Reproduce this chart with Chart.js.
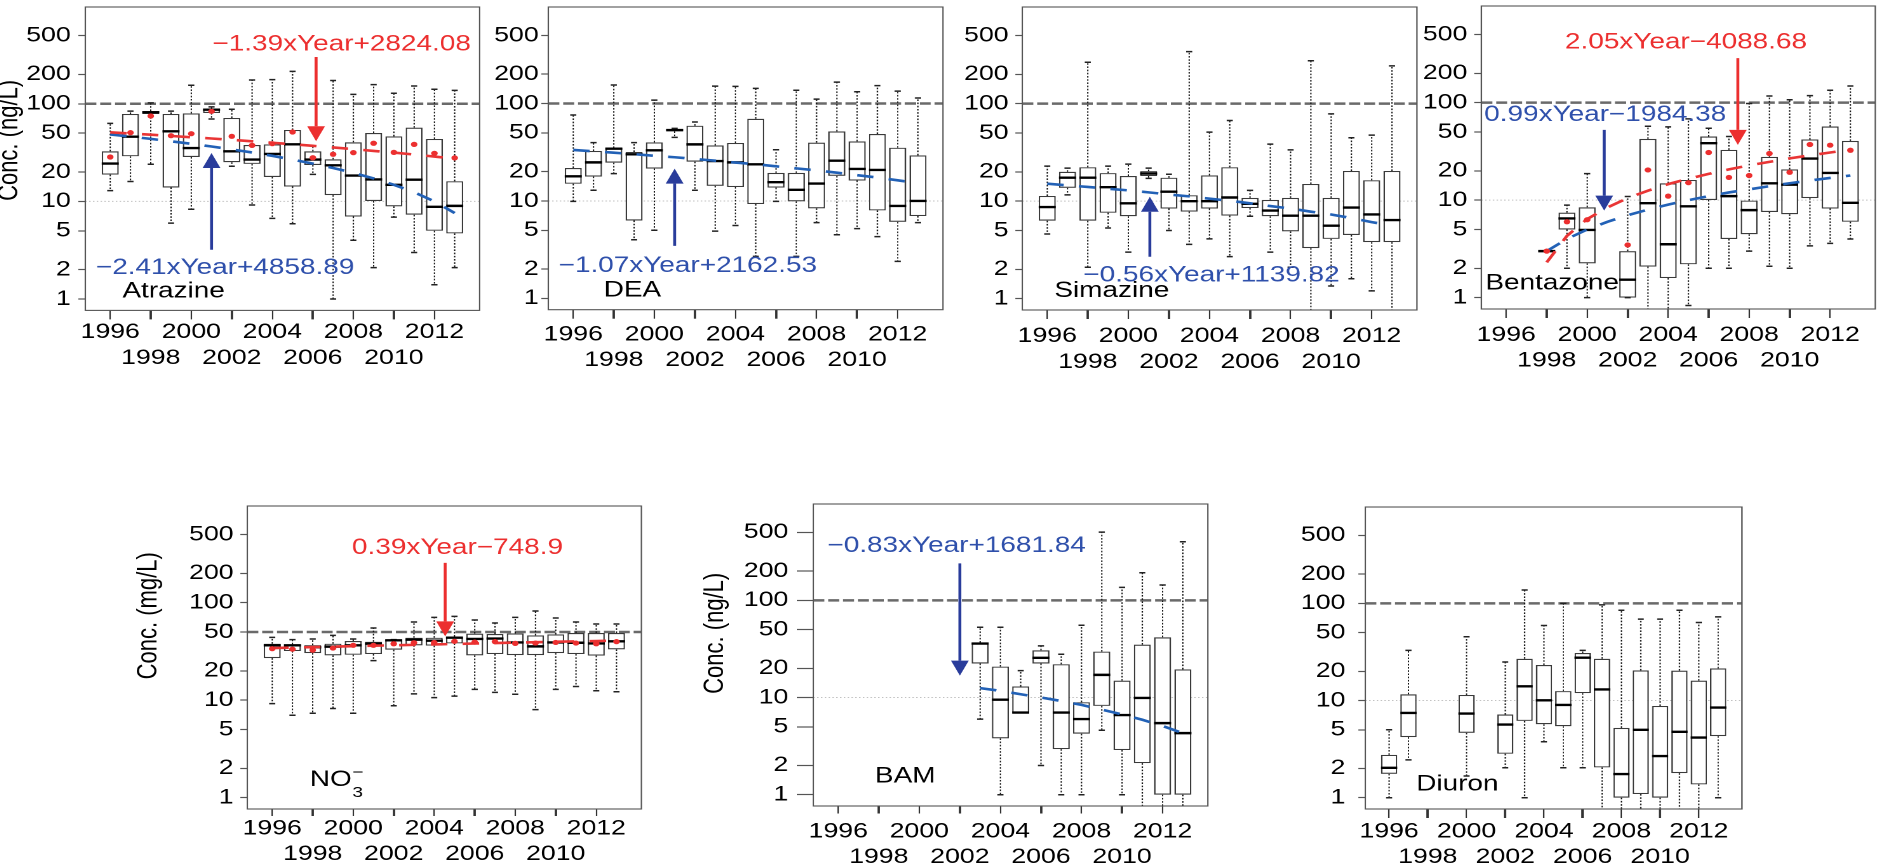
<!DOCTYPE html>
<html><head><meta charset="utf-8">
<script src="https://cdn.jsdelivr.net/npm/chart.js@4.4.1/dist/chart.umd.min.js"></script>
<style>
html,body{margin:0;padding:0;background:#fff;width:1878px;height:868px;overflow:hidden;position:relative;}
.panel{position:absolute;transform-origin:0 0;}
canvas{display:block;}
</style></head><body>
<script>
// ---------------- data ----------------
const years = [1996,1997,1998,1999,2000,2001,2002,2003,2004,2005,2006,2007,2008,2009,2010,2011,2012,2013];
const xTickValues = [1996,1998,2000,2002,2004,2006,2008,2010,2012];
const yTickValues = [1,2,5,10,20,50,100,200,500];

const atrazineHi  = [63, 84, 102, 84, 155, 93, 88, 175, 177, 215, 37, 173, 125, 157, 128, 152, 141, 137];
const atrazineQ3  = [32.6, 78.6, 84.4, 78.6, 79.8, 89.1, 71.6, 37.8, 38.4, 53.9, 32.6, 27.0, 40.3, 50.2, 46.4, 56.9, 43.6, 16.1];
const atrazineMed = [24.4, 46.0, 81.8, 52.2, 35.2, 87.0, 32.6, 26.8, 30.6, 38.4, 26.8, 23.4, 18.4, 16.8, 14.8, 16.7, 8.8, 9.0];
const atrazineQ1  = [18.8, 29.0, 78.6, 13.9, 28.5, 80.5, 25.2, 24.2, 17.8, 14.2, 23.6, 11.6, 7.0, 10.1, 8.9, 7.3, 5.0, 4.7];
const atrazineLo  = [12.9, 16.0, 24.0, 6.0, 8.3, 69.8, 22.9, 9.2, 6.7, 5.9, 18.9, 1.0, 4.0, 2.1, 6.9, 3.0, 1.4, 2.1];
const atrazineMean = [28.5, 50.6, 75.0, 47.1, 49.4, 83.7, 46.4, 37.5, 39.0, 51.4, 28.0, 30.4, 31.6, 39.4, 31.8, 38.4, 31.1, 27.9];
const atrazineMedianTrend = [48.5, 46.1, 43.7, 41.3, 38.9, 36.5, 34.1, 31.7, 29.3, 26.8, 24.4, 22.0, 19.6, 17.2, 14.8, 12.4, 10.0, 7.6];
const atrazineMeanTrend = [51.0, 49.6, 48.2, 46.8, 45.4, 44.1, 42.7, 41.3, 39.9, 38.5, 37.1, 35.7, 34.3, 32.9, 31.6, 30.2, 28.8, 27.4];

const deaHi  = [76.2, 39.7, 155, 39.7, 108.6, 55.6, 64.6, 151, 150, 143, 33.6, 137, 111, 166, 132, 153, 134, 114];
const deaQ3  = [21.8, 32.6, 35.0, 31.8, 40.0, 54.8, 59.2, 37.2, 39.4, 69.8, 19.4, 19.4, 39.7, 51.8, 40.9, 48.7, 35.2, 29.4];
const deaMed = [17.9, 24.9, 34.4, 30.1, 33.1, 53.5, 38.1, 25.7, 24.9, 23.8, 15.6, 13.0, 15.1, 25.9, 21.3, 20.8, 8.9, 10.0];
const deaQ1  = [15.0, 17.8, 24.7, 6.3, 21.5, 51.8, 25.3, 14.3, 13.9, 9.3, 13.7, 9.9, 8.4, 18.1, 16.2, 8.0, 6.1, 7.0];
const deaLo  = [9.9, 12.9, 19.1, 4.0, 5.0, 45.0, 12.9, 4.9, 5.6, 2.7, 9.9, 2.7, 6.0, 4.5, 5.2, 4.3, 2.4, 6.0];
const deaMedianTrend = [33.4, 32.3, 31.3, 30.2, 29.1, 28.1, 27.0, 25.9, 24.8, 23.8, 22.7, 21.6, 20.6, 19.5, 18.4, 17.4, 16.3, 15.2];

const simazineHi  = [22.9, 21.8, 266, 22.9, 24.0, 21.8, 18.9, 342, 51, 67.2, 12.9, 38.4, 33.6, 275, 78.6, 44.7, 47.5, 244];
const simazineQ3  = [11.3, 20.0, 22.3, 19.4, 18.1, 20.3, 17.4, 11.5, 18.4, 22.3, 10.8, 10.3, 10.8, 15.0, 10.8, 20.4, 16.4, 20.4];
const simazineMed = [8.7, 17.4, 17.4, 13.9, 9.5, 19.2, 12.5, 10.0, 10.0, 10.9, 9.4, 8.0, 7.1, 7.1, 5.6, 8.6, 7.3, 6.4];
const simazineQ1  = [6.3, 13.7, 6.3, 7.6, 7.0, 18.1, 8.4, 7.8, 8.4, 7.1, 8.5, 7.0, 4.9, 3.3, 4.1, 4.5, 3.8, 3.8];
const simazineLo  = [4.6, 11.6, 2.1, 5.3, 3.0, 17.1, 5.0, 3.6, 4.1, 2.7, 7.0, 3.0, 2.1, 0.6, 1.35, 1.6, 1.2, 0.6];
const simazineMedianTrend = [15.1, 14.5, 14.0, 13.4, 12.9, 12.3, 11.7, 11.2, 10.6, 10.1, 9.5, 8.9, 8.4, 7.8, 7.3, 6.7, 6.1, 5.6];

const bentazoneHi  = [null, null, 3.0, 8.9, 18.7, null, 10.9, 57.3, 56.5, 68.2, 54.7, 44.9, 98, 117, 107, 118, 134, 148];
const bentazoneQ3  = [null, null, 3.05, 7.45, 8.45, null, 3.0, 42.5, 14.9, 16.1, 44.9, 32.8, 9.9, 27.8, 20.7, 41.9, 56.9, 40.5];
const bentazoneMed = [null, null, 3.0, 6.5, 4.95, null, 1.53, 9.3, 3.53, 8.65, 38.4, 11.0, 7.9, 14.9, 14.4, 26.7, 19.0, 9.4];
const bentazoneQ1  = [null, null, 2.95, 5.0, 2.25, null, 1.0, 2.08, 1.59, 2.2, 10.05, 4.0, 4.47, 7.57, 7.17, 10.5, 8.2, 6.0];
const bentazoneLo  = [null, null, 3.0, 2.0, 1.0, null, 1.0, 0.6, 0.6, 0.83, 2.0, 2.0, 3.0, 2.1, 2.0, 3.4, 3.6, 4.0];
const bentazoneMean = [null, null, 3.0, 6.0, 6.3, null, 3.47, 20.4, 11.0, 15.1, 30.8, 17.1, 17.9, 30.1, 19.3, 37.2, 36.6, 32.5];
const bentazoneMedianTrend = [null, null, 3.0, 4.0, 5.0, 6.0, 7.0, 8.0, 9.0, 10.0, 11.0, 12.0, 12.9, 13.9, 14.9, 15.9, 16.9, 17.9];
const bentazoneMeanTrend = [null, null, 2.3, 4.3, 6.4, 8.4, 10.5, 12.5, 14.6, 16.6, 18.6, 20.7, 22.7, 24.7, 26.8, 28.8, 30.8, 32.9];

const nitrateHi  = [44, 41.7, 42.4, 46.2, 42.4, 54.9, 41.7, 63.3, 70.7, 72.4, 66.4, 61.8, 70.7, 82.1, 69.6, 63.3, 60.4, 60.4];
const nitrateQ3  = [37.9, 37.3, 36.7, 37.9, 40.4, 39.7, 41.7, 43.7, 43.7, 44.8, 48.1, 47.7, 48.4, 46.2, 47.3, 48.8, 48.8, 48.8];
const nitrateMed = [36.5, 36.5, 34.8, 35.4, 36.5, 37.9, 41.1, 41.7, 40.7, 43.7, 42.4, 42.8, 39.1, 35.6, 39.1, 38.8, 38.2, 40.1];
const nitrateQ1  = [27.0, 31.9, 30.4, 28.8, 29.2, 29.7, 32.9, 36.5, 36.2, 38.2, 28.8, 29.7, 29.0, 29.0, 30.4, 29.7, 28.6, 33.2];
const nitrateLo  = [9.2, 7.0, 7.35, 8.2, 7.35, 25.4, 8.75, 11.6, 10.6, 11.0, 12.9, 12.0, 11.5, 8.0, 12.9, 13.8, 12.5, 12.2];
const nitrateMean = [33.7, 33.3, 32.6, 34.2, 36.5, 36.5, 37.9, 38.8, 39.1, 40.1, 39.4, 39.8, 38.2, 38.5, 39.1, 38.5, 37.9, 39.8];
const nitrateMeanTrend = [34.2, 34.6, 35.0, 35.4, 35.8, 36.2, 36.5, 36.9, 37.3, 37.7, 38.1, 38.5, 38.9, 39.3, 39.7, 40.1, 40.4, 40.8];

const bamHi  = [null, null, null, null, null, null, null, 52.8, 52.8, 18.9, 34.0, 27.9, 55.4, 504, 136, 192, 144, 401];
const bamQ3  = [null, null, null, null, null, null, null, 36.7, 20.8, 13.0, 30.6, 22.0, 8.95, 29.7, 14.9, 35.0, 41.7, 19.5];
const bamMed = [null, null, null, null, null, null, null, 35.9, 9.5, 7.0, 25.6, 7.0, 6.0, 17.1, 6.6, 9.9, 5.45, 4.3];
const bamQ1  = [null, null, null, null, null, null, null, 22.4, 3.8, 6.96, 22.4, 2.94, 4.24, 8.2, 2.88, 2.11, 1.0, 1.0];
const bamLo  = [null, null, null, null, null, null, null, 6.0, 1.0, 6.96, 2.0, 1.0, 1.0, 4.6, 1.0, 0.6, 0.6, 0.6];
const bamMedianTrend = [null, null, null, null, null, null, null, 12.5, 11.7, 10.8, 10.0, 9.2, 8.4, 7.5, 6.7, 5.9, 5.1, 4.3];

const diuronHi  = [5.0, 32.8, null, null, 45.3, null, 24.9, 137, 59.2, 100, 32.8, 96.4, 85, 68.7, 68.7, 85, 63.5, 72.6];
const diuronQ3  = [2.76, 11.6, null, null, 11.4, null, 7.17, 26.9, 23.2, 12.5, 30.8, 26.9, 5.23, 20.4, 8.79, 20.3, 16.0, 21.4];
const diuronMed = [2.03, 7.45, null, null, 7.34, null, 5.66, 14.0, 10.05, 9.0, 27.6, 13.0, 1.75, 5.0, 2.68, 4.76, 4.16, 8.46];
const diuronQ1  = [1.76, 4.2, null, null, 4.65, null, 2.83, 6.17, 5.7, 5.44, 11.9, 2.05, 1.0, 1.09, 1.0, 1.79, 1.37, 4.3];
const diuronLo  = [1.0, 2.45, null, null, 1.67, null, 2.03, 1.0, 3.76, 2.03, 2.03, 0.6, 0.6, 0.6, 0.6, 0.6, 0.6, 1.0];

// ---------------- styles / layout ----------------
const RED = '#ec2f2f', RED_LINE = '#e93535';
const BLUE_TEXT = '#2f50ab', BLUE_ARROW = '#293c9b', BLUE_LINE = '#2261b6';
const FONT = "'Liberation Sans', Arial, Helvetica, sans-serif";
Chart.defaults.font.family = FONT;
Chart.defaults.font.size = 21;
Chart.defaults.font.lineHeight = 1.22;
Chart.defaults.color = '#000';

const S = 1.27;          // horizontal stretch of the original figure
const AX = 90, PADT = 22, XH = 70, PADR = 10;
const X_MIN = 1994.77, X_MAX = 2014.23, Y_MIN = 0.765, Y_MAX = 980;

const panels = [
  { left:85.7, right:480, top:7.3, bottom:310.7, yPad:6, yTick:5.5, xPad:0.2, xTick:9,
    hi:atrazineHi, q3:atrazineQ3, med:atrazineMed, q1:atrazineQ1, lo:atrazineLo,
    mean:atrazineMean, medTrend:atrazineMedianTrend, meanTrend:atrazineMeanTrend,
    limit:100, dotted:10,
    title:{text:'Conc. (ng/L)', cx:10, cy:140.7},
    label:{text:'Atrazine', x:1996.6, y:1.2},
    notes:[
      {text:'\u22121.39xYear+2824.08', color:RED, arrow:RED, x:2007.42, y:404, ax:2006.16, from:301, to:41.3},
      {text:'\u22122.41xYear+4858.89', color:BLUE_TEXT, arrow:BLUE_ARROW, x:2001.67, y:2.08, ax:2001.0, from:3.2, to:31.3}
    ]},
  { left:548.7, right:943.3, top:7.3, bottom:310, yPad:2.1, yTick:5.5, xPad:3.2, xTick:9,
    hi:deaHi, q3:deaQ3, med:deaMed, q1:deaQ1, lo:deaLo,
    medTrend:deaMedianTrend, limit:100, dotted:10,
    label:{text:'DEA', x:1997.5, y:1.2},
    notes:[
      {text:'\u22121.07xYear+2162.53', color:BLUE_TEXT, arrow:BLUE_ARROW, x:2001.65, y:2.16, ax:2001.0, from:3.46, to:21.5}
    ]},
  { left:1022.7, right:1417.3, top:7.3, bottom:310.3, yPad:5.3, yTick:5.5, xPad:4.6, xTick:9,
    hi:simazineHi, q3:simazineQ3, med:simazineMed, q1:simazineQ1, lo:simazineLo,
    medTrend:simazineMedianTrend, limit:100, dotted:10,
    label:{text:'Simazine', x:1996.35, y:1.2},
    notes:[
      {text:'\u22120.56xYear+1139.82', color:BLUE_TEXT, arrow:BLUE_ARROW, x:2004.1, y:1.73, ax:2001.06, from:2.69, to:11.1}
    ]},
  { left:1481.3, right:1875.3, top:6, bottom:309, yPad:5.5, yTick:5.5, xPad:4.2, xTick:9,
    hi:bentazoneHi, q3:bentazoneQ3, med:bentazoneMed, q1:bentazoneQ1, lo:bentazoneLo,
    mean:bentazoneMean, medTrend:bentazoneMedianTrend, meanTrend:bentazoneMeanTrend,
    limit:100, dotted:10,
    label:{text:'Bentazone', x:1994.97, y:1.4},
    notes:[
      {text:'2.05xYear\u22124088.68', color:RED, arrow:RED, x:2004.88, y:414, ax:2007.44, from:286, to:36.9},
      {text:'0.99xYear\u22121984.38', color:BLUE_TEXT, arrow:BLUE_ARROW, x:2000.89, y:75, ax:2000.84, from:52.6, to:7.8}
    ]},
  { left:247, right:641.1, top:506, bottom:809, yPad:5.3, yTick:5.5, xPad:0, xTick:7,
    hi:nitrateHi, q3:nitrateQ3, med:nitrateMed, q1:nitrateQ1, lo:nitrateLo,
    mean:nitrateMean, meanTrend:nitrateMeanTrend, limit:50,
    title:{text:'Conc. (mg/L)', cx:148.3, cy:615.8},
    label:{text:'NO', sub:'3', sup:'\u2212', x:1997.86, y:1.52},
    notes:[
      {text:'0.39xYear\u2212748.9', color:RED, arrow:RED, x:2005.15, y:365, ax:2004.54, from:256, to:45.1}
    ]},
  { left:812.8, right:1207.3, top:504, bottom:806, yPad:6.7, yTick:13, xPad:5.4, xTick:7.5,
    hi:bamHi, q3:bamQ3, med:bamMed, q1:bamQ1, lo:bamLo,
    medTrend:bamMedianTrend, limit:100, dotted:10,
    title:{text:'Conc. (ng/L)', cx:715, cy:633.3},
    label:{text:'BAM', x:1997.81, y:1.54},
    notes:[
      {text:'\u22120.83xYear+1681.84', color:BLUE_TEXT, arrow:BLUE_ARROW, x:2001.84, y:362, ax:2002.0, from:240, to:16.8}
    ]},
  { left:1365, right:1741.7, top:506, bottom:809, yPad:10.2, yTick:5.5, xPad:0.9, xTick:9,
    hi:diuronHi, q3:diuronQ3, med:diuronMed, q1:diuronQ1, lo:diuronLo,
    limit:100, dotted:10,
    label:{text:'Diuron', x:1997.4, y:1.37},
    notes:[]}
];

function pts(vals){
  return years.map((yr,i)=> vals[i]==null ? null : {x:yr, y:vals[i]}).filter(Boolean);
}

function hline(ctx, x1, x2, y){ ctx.beginPath(); ctx.moveTo(x1,y); ctx.lineTo(x2,y); ctx.stroke(); }
function vline(ctx, x, y1, y2){ ctx.beginPath(); ctx.moveTo(x,y1); ctx.lineTo(x,y2); ctx.stroke(); }

const extras = {
  id:'extras',
  beforeDatasetsDraw(chart){
    const p = chart.canvas.$panel, ctx = chart.ctx, ca = chart.chartArea, ys = chart.scales.y;
    ctx.save();
    if (p.dotted){
      ctx.strokeStyle = '#c2c2c2'; ctx.lineWidth = 1; ctx.setLineDash([1.2,1.8]);
      hline(ctx, ca.left, ca.right, ys.getPixelForValue(p.dotted));
    }
    if (p.limit){
      ctx.strokeStyle = '#6a6a6a'; ctx.lineWidth = 2.5; ctx.setLineDash([8.7,3]);
      hline(ctx, ca.left, ca.right, ys.getPixelForValue(p.limit));
    }
    ctx.restore();
  },
  afterDatasetDraw(chart, args){
    if (args.index !== 0) return;
    const p = chart.canvas.$panel, ctx = chart.ctx, ca = chart.chartArea;
    const xs = chart.scales.x, ys = chart.scales.y;
    const bars = chart.getDatasetMeta(0).data;
    ctx.save();
    ctx.beginPath(); ctx.rect(ca.left, ca.top, ca.right-ca.left, ca.bottom-ca.top); ctx.clip();
    let j = 0;
    years.forEach((yr,i)=>{
      if (p.hi[i]==null) return;
      const bar = bars[j++];
      const x = xs.getPixelForValue(yr);
      const half = bar ? bar.width/2 : 6.7;
      const yHi = ys.getPixelForValue(p.hi[i]), yQ3 = ys.getPixelForValue(p.q3[i]);
      const yQ1 = ys.getPixelForValue(p.q1[i]), yLo = ys.getPixelForValue(p.lo[i]);
      const yMed = ys.getPixelForValue(p.med[i]);
      ctx.strokeStyle = '#111'; ctx.lineWidth = 1; ctx.setLineDash([1.6,1.6]);
      if (yHi < yQ3 - 0.5) vline(ctx, x, yQ3, yHi);
      if (yLo > yQ1 + 0.5) vline(ctx, x, yQ1, yLo);
      ctx.setLineDash([]); ctx.lineWidth = 1.5; ctx.strokeStyle = '#222';
      hline(ctx, x-2.4, x+2.4, yHi);
      hline(ctx, x-2.4, x+2.4, yLo);
      ctx.strokeStyle = '#000'; ctx.lineWidth = 2.4;
      hline(ctx, x-half, x+half, yMed);
    });
    ctx.restore();
  },
  afterDraw(chart){
    const p = chart.canvas.$panel, ctx = chart.ctx, ca = chart.chartArea;
    const xs = chart.scales.x, ys = chart.scales.y;
    ctx.save();
    // frame
    ctx.strokeStyle = '#555'; ctx.lineWidth = 1.1; ctx.setLineDash([]);
    ctx.strokeRect(ca.left, ca.top, ca.right-ca.left, ca.bottom-ca.top);
    // annotations
    p.notes.forEach(n=>{
      ctx.font = '22px ' + FONT; ctx.fillStyle = n.color;
      ctx.textAlign = 'center'; ctx.textBaseline = 'middle';
      ctx.fillText(n.text, xs.getPixelForValue(n.x), ys.getPixelForValue(n.y));
      const ax = xs.getPixelForValue(n.ax);
      const y0 = ys.getPixelForValue(n.from), y1 = ys.getPixelForValue(n.to);
      const dir = y1 > y0 ? 1 : -1, hl = 15, hw = 7;
      ctx.strokeStyle = n.arrow; ctx.fillStyle = n.arrow; ctx.lineWidth = 2.3;
      vline(ctx, ax, y0, y1 - dir*hl);
      ctx.beginPath(); ctx.moveTo(ax, y1); ctx.lineTo(ax-hw, y1-dir*hl); ctx.lineTo(ax+hw, y1-dir*hl); ctx.closePath(); ctx.fill();
    });
    // panel name
    const L = p.label;
    ctx.fillStyle = '#000'; ctx.textAlign = 'left'; ctx.textBaseline = 'middle';
    ctx.font = '22px ' + FONT;
    const lx = xs.getPixelForValue(L.x), ly = ys.getPixelForValue(L.y);
    ctx.fillText(L.text, lx, ly);
    if (L.sub){
      const w = ctx.measureText(L.text).width;
      ctx.font = '15px ' + FONT;
      ctx.fillText(L.sub, lx + w + 0.5, ly + 13);
      ctx.fillText(L.sup, lx + w + 0.5, ly - 7);
    }
    // y-axis title
    if (p.title){
      const ix = AX + (p.title.cx - p.left)/S;
      const iy = PADT + (p.title.cy - p.top);
      ctx.translate(ix, iy); ctx.rotate(-Math.PI/2);
      ctx.font = '22px ' + FONT; ctx.textAlign = 'center'; ctx.textBaseline = 'middle';
      ctx.fillText(p.title.text, 0, 0);
    }
    ctx.restore();
  }
};

panels.forEach(p=>{
  const plotW = (p.right - p.left)/S;
  const plotH = p.bottom - p.top;
  const W = Math.ceil(AX + plotW + PADR);
  const H = Math.ceil(PADT + plotH + XH);
  const padR = W - AX - plotW;
  const xH = H - PADT - plotH;
  const div = document.createElement('div');
  div.className = 'panel';
  div.style.left = (p.left - AX*S) + 'px';
  div.style.top = (p.top - PADT) + 'px';
  div.style.width = W + 'px';
  div.style.height = H + 'px';
  div.style.transform = 'scaleX(' + S + ')';
  const cv = document.createElement('canvas');
  cv.width = W; cv.height = H;
  cv.style.width = W + 'px'; cv.style.height = H + 'px';
  div.appendChild(cv);
  document.body.appendChild(div);
  cv.$panel = p;

  const boxData = years.map((yr,i)=> p.hi[i]==null ? null : {x:yr, y:[p.q1[i], p.q3[i]]}).filter(Boolean);
  const datasets = [{
    type:'bar', data:boxData, backgroundColor:'#ffffff', borderColor:'#3a3a3a', borderWidth:1.2,
    borderSkipped:false, barPercentage:0.84, categoryPercentage:1, order:10
  }];
  if (p.medTrend) datasets.push({type:'line', data:pts(p.medTrend), borderColor:BLUE_LINE, borderWidth:2.6,
    borderDash:[13,12], pointRadius:0, fill:false, tension:0, order:3});
  if (p.meanTrend) datasets.push({type:'line', data:pts(p.meanTrend), borderColor:RED_LINE, borderWidth:2.6,
    borderDash:[13,12], pointRadius:0, fill:false, tension:0, order:2});
  if (p.mean) datasets.push({type:'scatter', data:pts(p.mean), backgroundColor:RED, borderWidth:0,
    pointRadius:2.6, pointBorderWidth:0, order:1});

  const tickFont = {family:FONT, size:21, lineHeight:1.22};
  new Chart(cv, {
    type:'bar',
    data:{datasets},
    options:{
      responsive:false, animation:false, devicePixelRatio:2, events:[],
      font:tickFont,
      layout:{padding:{left:0, right:padR, top:PADT, bottom:0}},
      plugins:{legend:{display:false}, tooltip:{enabled:false}},
      scales:{
        x:{type:'linear', min:X_MIN, max:X_MAX, offset:false,
          afterBuildTicks:s=>{ s.ticks = xTickValues.map(v=>({value:v})); },
          afterFit:s=>{ s.height = xH; },
          ticks:{autoSkip:false, maxRotation:0, minRotation:0, padding:p.xPad, color:'#000',
            font:tickFont,
            callback:(v,i)=> i%2===0 ? [String(v), ''] : ['', String(v)]},
          grid:{offset:false, drawOnChartArea:false, drawTicks:true, tickLength:p.xTick, tickColor:'#333',
            tickWidth:c=> (c.index % 2 ? 1.9 : 1.1)},
          border:{display:false}},
        y:{type:'logarithmic', min:Y_MIN, max:Y_MAX,
          afterBuildTicks:s=>{ s.ticks = yTickValues.map(v=>({value:v})); },
          afterFit:s=>{ s.width = AX; },
          ticks:{autoSkip:false, padding:p.yPad, color:'#000', font:tickFont,
            callback:v=> String(v)},
          grid:{drawOnChartArea:false, drawTicks:true, tickLength:p.yTick, tickColor:'#555', tickWidth:1.2},
          border:{display:false}}
      }
    },
    plugins:[extras]
  });
});
</script>
</body></html>
